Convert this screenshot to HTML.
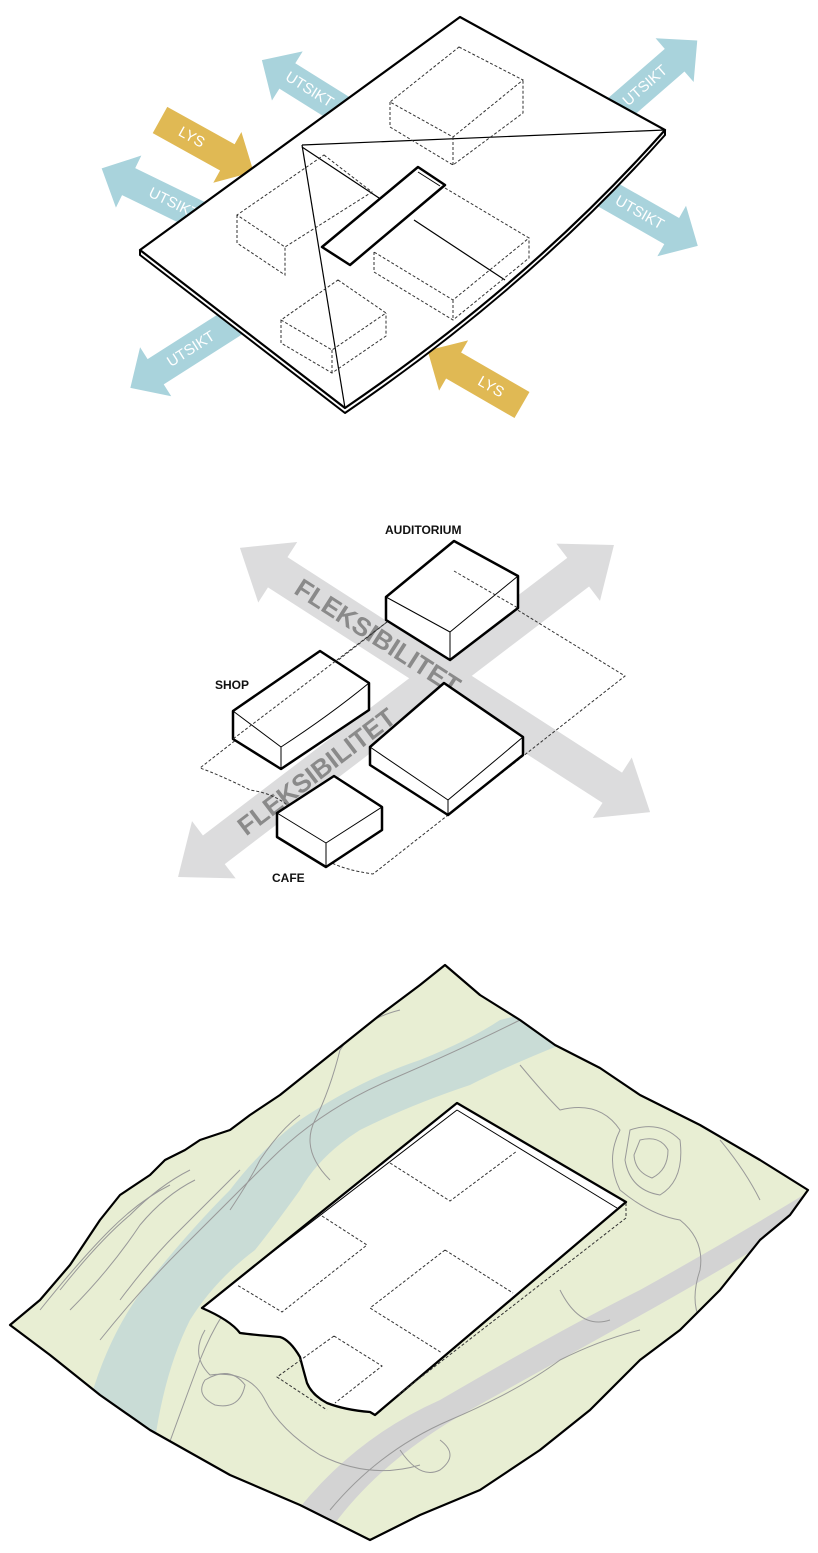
<!DOCTYPE html>
<html><head><meta charset="utf-8"><style>html,body{margin:0;padding:0;background:#fff}svg{display:block}</style></head>
<body>
<svg width="818" height="1553" viewBox="0 0 818 1553" xmlns="http://www.w3.org/2000/svg" font-family="Liberation Sans, sans-serif">
<!-- ========== TOP DIAGRAM ========== -->
<g fill="#a9d3dc">
 <g transform="translate(345,112) rotate(212)"><polygon points="0,-15 68,-15 68,-29 98,0 68,29 68,15 0,15"/><text transform="translate(42,0) rotate(180)" font-size="15" fill="#fff" text-anchor="middle" dominant-baseline="central">UTSIKT</text></g>
 <g transform="translate(232,232) rotate(206)"><polygon points="0,-15 115,-15 115,-29 145,0 115,29 115,15 0,15"/><text transform="translate(65,0) rotate(180)" font-size="15" fill="#fff" text-anchor="middle" dominant-baseline="central">UTSIKT</text></g>
 <g transform="translate(240,318) rotate(147.5)"><polygon points="0,-15 100,-15 100,-29 130,0 100,29 100,15 0,15"/><text transform="translate(58,0) rotate(180)" font-size="15" fill="#fff" text-anchor="middle" dominant-baseline="central">UTSIKT</text></g>
 <g transform="translate(615,112) rotate(-41)"><polygon points="0,-15 79,-15 79,-29 109,0 79,29 79,15 0,15"/><text transform="translate(40,0)" font-size="15" fill="#fff" text-anchor="middle" dominant-baseline="central">UTSIKT</text></g>
 <g transform="translate(603,192) rotate(29.6)"><polygon points="0,-15 79,-15 79,-29 109,0 79,29 79,15 0,15"/><text transform="translate(42,0)" font-size="15" fill="#fff" text-anchor="middle" dominant-baseline="central">UTSIKT</text></g>
</g>
<g fill="#e0b954">
 <g transform="translate(160,120) rotate(29)"><polygon points="0,-15 77,-15 77,-29 107,0 77,29 77,15 0,15"/><text transform="translate(36,0)" font-size="15" fill="#fff" text-anchor="middle" dominant-baseline="central">LYS</text></g>
 <g transform="translate(522,405) rotate(210)"><polygon points="0,-15 79,-15 79,-29 109,0 79,29 79,15 0,15"/><text transform="translate(36,0) rotate(180)" font-size="15" fill="#fff" text-anchor="middle" dominant-baseline="central">LYS</text></g>
</g>
<!-- plate -->
<path d="M140,250 L140,255 L345,413 Q531,286 665,135 L665,130 Z" fill="#fff" stroke="#000" stroke-width="2" stroke-linejoin="round"/>
<path d="M460,17 L665,130 Q531,281 345,408 L140,250 Z" fill="#fff" stroke="#000" stroke-width="2.2" stroke-linejoin="round"/>
<g fill="none" stroke="#000" stroke-width="1.2">
 <line x1="302" y1="145" x2="665" y2="130"/>
 <line x1="302" y1="145" x2="345" y2="408"/>
 <line x1="302" y1="147" x2="382" y2="200"/>
 <line x1="414" y1="220" x2="505" y2="280"/>
</g>
<g fill="none" stroke="#333" stroke-width="1" stroke-dasharray="3,2">
 <path d="M459,47 L523,80 L453,137 L390,102 Z M390,102 L390,127 L453,165 L523,113 L523,80 M453,137 L453,165"/>
 <path d="M324,155 L372,192 L285,247 L237,215 Z M237,215 L237,243 L285,275 L285,247"/>
 <path d="M445,188 L529,238 L453,300 L374,252 M374,252 L374,272 L453,320 L529,258 L529,238 M453,300 L453,320"/>
 <path d="M338,280 L386,313 L332,350 L281,320 Z M281,320 L281,343 L332,373 L386,336 L386,313 M332,350 L332,373"/>
</g>
<polygon points="418,167 445,185 350,265 322,247" fill="#fff" stroke="#000" stroke-width="2.5" stroke-linejoin="round"/>
<polyline points="418,172 440,186" fill="none" stroke="#000" stroke-width="1"/>

<!-- ========== MIDDLE DIAGRAM ========== -->
<g fill="#dcdcdd">
 <polygon transform="translate(445,680) rotate(32.8)" points="-244,0 -199,-36 -199,-18 199,-18 199,-36 244,0 199,36 199,18 -199,18 -199,36"/>
 <polygon transform="translate(396,711) rotate(-37.3)" points="-274,0 -229,-36 -229,-18 229,-18 229,-36 274,0 229,36 229,18 -229,18 -229,36"/>
</g>
<text transform="translate(445,680) rotate(32.8)" x="-80" y="0" font-size="26" font-weight="bold" fill="#8a8a8a" text-anchor="middle" dominant-baseline="central">FLEKSIBILITET</text>
<text transform="translate(396,711) rotate(-37.3)" x="-100" y="0" font-size="26" font-weight="bold" fill="#8a8a8a" text-anchor="middle" dominant-baseline="central">FLEKSIBILITET</text>
<path d="M454,571 L625,676 L373,874 Q345,870 330,862 Q305,845 300,820 Q285,795 250,790 Q220,775 200,768 L387,622 Z" fill="none" stroke="#333" stroke-width="1" stroke-dasharray="3,2"/>
<g fill="#fff" stroke="#000" stroke-linejoin="round">
 <path d="M454,541 L518,576 L518,608 L450,660 L386,620 L386,597 Z" stroke-width="2.5"/>
 <path d="M386,597 L450,632 L518,576 M450,632 L450,660" fill="none" stroke-width="1"/>
 <path d="M320,651 L369,683 L369,710 L281,769 L233,739 L233,711 Z" stroke-width="2.5"/>
 <path d="M233,711 L281,747 Q330,715 369,683 M281,747 L281,769" fill="none" stroke-width="1"/>
 <path d="M444,683 L523,737 L523,755 L448,815 L370,765 L370,747 Z" stroke-width="2.5"/>
 <path d="M370,747 L448,800 Q490,765 523,737 M448,800 L448,815" fill="none" stroke-width="1"/>
 <path d="M334,776 L382,807 L382,830 L326,867 L277,837 L277,813 Z" stroke-width="2.5"/>
 <path d="M277,813 L326,843 L382,807 M326,843 L326,867" fill="none" stroke-width="1"/>
</g>
<path d="M454,571 L518,608 M387,622 L233,739" fill="none" stroke="#333" stroke-width="1" stroke-dasharray="3,2"/>
<g font-size="12" font-weight="bold" fill="#111">
 <text x="385" y="534">AUDITORIUM</text>
 <text x="215" y="689">SHOP</text>
 <text x="272" y="882">CAFE</text>
</g>

<!-- ========== BOTTOM MAP ========== -->
<clipPath id="mapc"><path id="mp" d="M445,965 L480,995 L520,1020 L555,1045 L600,1068 L640,1095 L700,1125 L760,1160 L808,1190 L790,1215 L760,1240 L720,1290 L680,1330 L640,1360 L590,1410 L540,1450 L480,1490 L420,1515 L370,1540 L300,1505 L230,1475 L150,1430 L100,1395 L50,1355 L10,1325 L40,1300 L70,1265 L100,1220 L120,1195 L150,1175 L165,1160 L185,1150 L200,1140 L230,1130 L250,1115 L280,1095 L330,1055 L380,1015 L420,985 Z"/></clipPath>
<use href="#mp" fill="#e8eed3"/>
<g clip-path="url(#mapc)">
 <path d="M90,1400 Q110,1330 150,1280 Q190,1230 230,1190 Q260,1150 300,1120 Q360,1080 420,1060 Q470,1040 500,1020 L520,1015 L560,1045 Q510,1065 470,1085 Q410,1105 360,1130 Q320,1155 300,1190 Q275,1225 255,1250 Q215,1280 190,1320 Q165,1370 155,1440 Z" fill="#c9dcd6"/>
 <path d="M290,1520 Q350,1440 440,1400 Q560,1330 640,1290 Q730,1240 820,1185 L820,1210 Q730,1265 650,1310 Q560,1360 470,1410 Q380,1460 330,1530 Z" fill="#d3d3d3"/>
 <g fill="none" stroke="#999" stroke-width="1">
  <path d="M100,1340 Q140,1290 180,1250 Q230,1200 270,1160 Q320,1110 390,1080 Q460,1050 520,1020"/>
  <path d="M120,1300 Q150,1260 175,1235 Q210,1200 240,1170"/>
  <path d="M70,1310 Q110,1270 140,1225 Q165,1195 195,1180"/>
  <path d="M60,1290 Q100,1240 130,1215 Q160,1185 190,1170"/>
  <path d="M40,1310 Q80,1260 110,1230 Q140,1200 170,1185"/>
  <path d="M230,1210 Q250,1180 260,1160 Q280,1130 300,1115"/>
  <path d="M165,1455 Q185,1400 200,1360 Q220,1310 250,1280"/>
  <path d="M330,1180 Q300,1150 315,1120 Q330,1090 340,1050 Q360,1020 400,1010"/>
  <path d="M520,1065 Q545,1095 560,1110 Q600,1100 620,1130 Q605,1160 620,1190 Q650,1215 680,1220 Q705,1240 700,1270 Q690,1300 700,1320"/>
  <path d="M630,1130 Q660,1120 680,1140 Q685,1180 660,1195 Q630,1190 625,1160 Z"/>
  <path d="M640,1140 Q660,1135 668,1150 Q668,1170 652,1178 Q635,1172 634,1155 Z"/>
  <path d="M720,1140 Q745,1170 760,1200"/>
  <path d="M205,1330 Q190,1355 210,1375 Q250,1370 265,1400 Q280,1430 320,1455 Q370,1480 420,1465"/>
  <path d="M205,1380 Q230,1365 245,1385 Q240,1410 215,1405 Q195,1395 205,1380 Z"/>
  <path d="M330,1510 Q380,1450 450,1420 Q520,1390 560,1360 Q600,1340 640,1330"/>
  <path d="M400,1450 Q420,1480 440,1470 Q460,1455 440,1440"/>
  <path d="M560,1290 Q580,1330 610,1320"/>
 </g>
</g>
<use href="#mp" fill="none" stroke="#000" stroke-width="2.2" stroke-linejoin="round"/>
<path d="M457,1103 L626,1202 L375,1415 L370,1412 Q345,1410 327,1403 Q312,1395 307,1383 Q302,1365 300,1357 Q290,1340 280,1337 Q255,1335 240,1333 Q230,1320 202,1308 Z" fill="#fff" stroke="#000" stroke-width="2.3" stroke-linejoin="round"/>
<path d="M457,1110 L617,1208 M457,1110 L240,1277" fill="none" stroke="#000" stroke-width="1"/>
<g fill="none" stroke="#333" stroke-width="1" stroke-dasharray="3,2">
 <path d="M390,1163 L450,1201 L517,1151"/>
 <path d="M322,1216 L367,1245 L282,1312 L237,1285"/>
 <path d="M445,1250 L513,1293 M445,1250 L370,1308 L442,1353"/>
 <path d="M334,1336 L382,1366 L335,1403 M334,1336 L277,1377 L327,1410"/>
 <path d="M626,1203 L626,1218 L398,1395"/>
</g>
</svg>
</body></html>
